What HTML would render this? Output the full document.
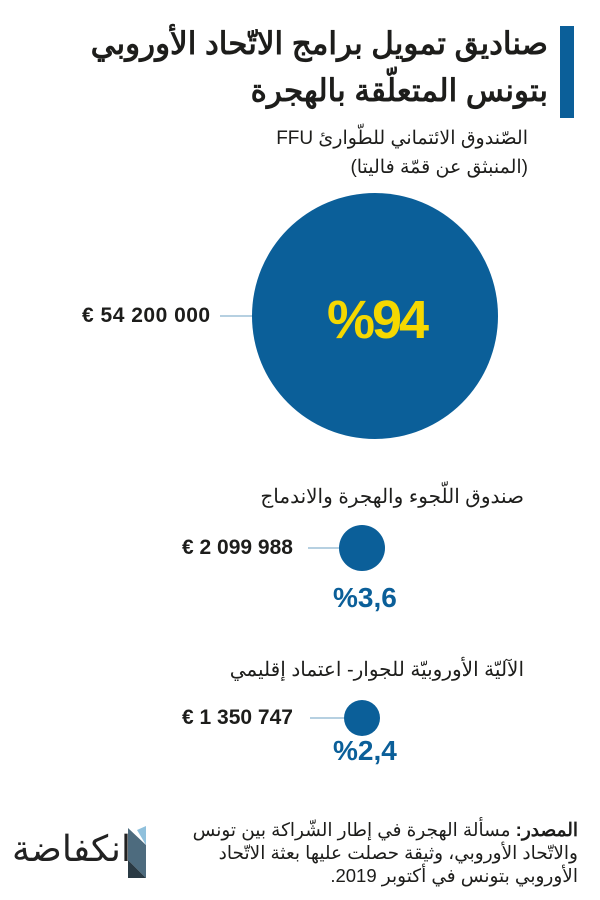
<!DOCTYPE html>
<html><head><meta charset="utf-8"><style>
body{margin:0;width:600px;height:900px;background:#fff;position:relative;overflow:hidden;font-family:"Liberation Sans","Noto Sans CJK SC",sans-serif;}
.a{position:absolute;white-space:nowrap}
.r{direction:rtl;text-align:right}
</style></head><body>
<div class="a" style="left:560px;top:26px;width:14px;height:92px;background:#0b5f99"></div>
<div class="a r" style="right:52px;top:20px;font-size:31px;font-weight:bold;color:#1d1d1b;line-height:47px">صناديق تمويل برامج الاتّحاد الأوروبي<br>بتونس المتعلّقة بالهجرة</div>
<div class="a r" style="right:72px;top:124px;font-size:19px;color:#1d1d1b;line-height:29px">الصّندوق الائتماني للطّوارئ FFU<br>(المنبثق عن قمّة فاليتا)</div>
<svg class="a" style="left:0;top:0" width="600" height="900">
<circle cx="375" cy="316" r="123" fill="#0b5f99"/>
<line x1="220" y1="316" x2="252" y2="316" stroke="#8ab4cf" stroke-width="1.2"/>
<circle cx="362" cy="548" r="23" fill="#0b5f99"/>
<line x1="308" y1="548" x2="339" y2="548" stroke="#8ab4cf" stroke-width="1.2"/>
<circle cx="362" cy="718" r="18" fill="#0b5f99"/>
<line x1="310" y1="718" x2="344" y2="718" stroke="#8ab4cf" stroke-width="1.2"/>
<polygon points="128,828 146,845 146,878 128,860" fill="#4d6b7e"/>
<polygon points="137,830 146,826 146,845" fill="#8fc0dc"/>
<polygon points="128,860 146,878 128,878" fill="#2a3a44"/>
</svg>
<div class="a" style="left:327px;top:289px;font-size:54px;font-weight:bold;color:#f5d800;letter-spacing:-3px">%94</div>
<div class="a" style="left:82px;top:304px;font-size:21px;font-weight:bold;color:#1d1d1b;letter-spacing:0.5px">€ 54 200 000</div>
<div class="a r" style="right:76px;top:484px;font-size:20px;color:#1d1d1b">صندوق اللّجوء والهجرة والاندماج</div>
<div class="a" style="left:182px;top:536px;font-size:21px;font-weight:bold;color:#1d1d1b">€ 2 099 988</div>
<div class="a" style="left:333px;top:582px;font-size:28px;font-weight:bold;color:#0b5f99">%3,6</div>
<div class="a r" style="right:76px;top:657px;font-size:20px;color:#1d1d1b">الآليّة الأوروبيّة للجوار- اعتماد إقليمي</div>
<div class="a" style="left:182px;top:706px;font-size:21px;font-weight:bold;color:#1d1d1b">€ 1 350 747</div>
<div class="a" style="left:333px;top:735px;font-size:28px;font-weight:bold;color:#0b5f99">%2,4</div>
<div class="a r" style="right:22px;top:818px;font-size:18.5px;color:#1d1d1b;line-height:23px"><b>المصدر:</b> مسألة الهجرة في إطار الشّراكة بين تونس<br>والاتّحاد الأوروبي، وثيقة حصلت عليها بعثة الاتّحاد<br>الأوروبي بتونس في أكتوبر 2019.</div>
<div class="a" style="left:12px;top:828px;font-size:36px;color:#222;direction:rtl">انكفاضة</div>
</body></html>
